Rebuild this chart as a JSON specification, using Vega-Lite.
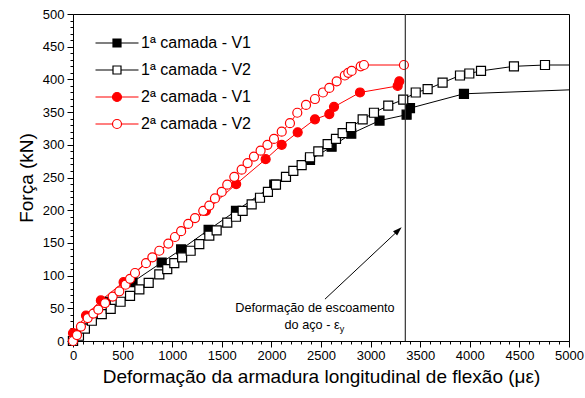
{
"$schema":"https://vega.github.io/schema/vega-lite/v6.json",
"width":496,"height":327,
"autosize":{"type":"none"},
"padding":{"left":73,"top":14,"right":16,"bottom":57},
"background":"white",
"config":{"view":{"stroke":"#000000","strokeWidth":1},"font":"Liberation Sans",
"axis":{"domainColor":"#000000","tickColor":"#000000","labelColor":"#000000","titleColor":"#000000","grid":false,"labelFont":"Liberation Sans","titleFont":"Liberation Sans","titleFontWeight":"normal","domainWidth":1,"tickWidth":1}},
"datasets":{"curves":[
{"s":"1ª camada - V1","x":0,"y":0},{"s":"1ª camada - V1","x":30,"y":10},{"s":"1ª camada - V1","x":330,"y":60},{"s":"1ª camada - V1","x":600,"y":90},{"s":"1ª camada - V1","x":894,"y":120},{"s":"1ª camada - V1","x":1090,"y":140},{"s":"1ª camada - V1","x":1367,"y":170},{"s":"1ª camada - V1","x":1643,"y":199},{"s":"1ª camada - V1","x":2029,"y":239},{"s":"1ª camada - V1","x":2389,"y":277},{"s":"1ª camada - V1","x":2607,"y":297},{"s":"1ª camada - V1","x":2805,"y":317},{"s":"1ª camada - V1","x":3090,"y":337},{"s":"1ª camada - V1","x":3363,"y":346},{"s":"1ª camada - V1","x":3397,"y":356},{"s":"1ª camada - V1","x":3941,"y":378},{"s":"1ª camada - V1","x":5000,"y":384},
{"s":"1ª camada - V2","x":0,"y":0},{"s":"1ª camada - V2","x":60,"y":8},{"s":"1ª camada - V2","x":120,"y":19},{"s":"1ª camada - V2","x":190,"y":31},{"s":"1ª camada - V2","x":290,"y":41},{"s":"1ª camada - V2","x":380,"y":49},{"s":"1ª camada - V2","x":480,"y":60},{"s":"1ª camada - V2","x":575,"y":69},{"s":"1ª camada - V2","x":669,"y":79},{"s":"1ª camada - V2","x":763,"y":89},{"s":"1ª camada - V2","x":870,"y":102},{"s":"1ª camada - V2","x":950,"y":110},{"s":"1ª camada - V2","x":1021,"y":119},{"s":"1ª camada - V2","x":1100,"y":128},{"s":"1ª camada - V2","x":1186,"y":138},{"s":"1ª camada - V2","x":1273,"y":148},{"s":"1ª camada - V2","x":1374,"y":161},{"s":"1ª camada - V2","x":1448,"y":169},{"s":"1ª camada - V2","x":1555,"y":181},{"s":"1ª camada - V2","x":1643,"y":190},{"s":"1ª camada - V2","x":1710,"y":199},{"s":"1ª camada - V2","x":1801,"y":209},{"s":"1ª camada - V2","x":1885,"y":219},{"s":"1ª camada - V2","x":1965,"y":228},{"s":"1ª camada - V2","x":2046,"y":239},{"s":"1ª camada - V2","x":2147,"y":251},{"s":"1ª camada - V2","x":2221,"y":260},{"s":"1ª camada - V2","x":2305,"y":269},{"s":"1ª camada - V2","x":2389,"y":281},{"s":"1ª camada - V2","x":2473,"y":290},{"s":"1ª camada - V2","x":2567,"y":301},{"s":"1ª camada - V2","x":2651,"y":309},{"s":"1ª camada - V2","x":2718,"y":318},{"s":"1ª camada - V2","x":2802,"y":327},{"s":"1ª camada - V2","x":2920,"y":339},{"s":"1ª camada - V2","x":3034,"y":349},{"s":"1ª camada - V2","x":3178,"y":360},{"s":"1ª camada - V2","x":3329,"y":369},{"s":"1ª camada - V2","x":3455,"y":380},{"s":"1ª camada - V2","x":3575,"y":385},{"s":"1ª camada - V2","x":3726,"y":395},{"s":"1ª camada - V2","x":3901,"y":406},{"s":"1ª camada - V2","x":3995,"y":409},{"s":"1ª camada - V2","x":4113,"y":413},{"s":"1ª camada - V2","x":4445,"y":420},{"s":"1ª camada - V2","x":4758,"y":422},{"s":"1ª camada - V2","x":5000,"y":422},
{"s":"2ª camada - V1","x":0,"y":12},{"s":"2ª camada - V1","x":131,"y":39},{"s":"2ª camada - V1","x":281,"y":62},{"s":"2ª camada - V1","x":510,"y":90},{"s":"2ª camada - V1","x":1340,"y":199},{"s":"2ª camada - V1","x":1645,"y":240},{"s":"2ª camada - V1","x":1942,"y":278},{"s":"2ª camada - V1","x":2104,"y":300},{"s":"2ª camada - V1","x":2265,"y":319},{"s":"2ª camada - V1","x":2439,"y":339},{"s":"2ª camada - V1","x":2584,"y":347},{"s":"2ª camada - V1","x":2631,"y":358},{"s":"2ª camada - V1","x":2893,"y":380},{"s":"2ª camada - V1","x":3273,"y":390},{"s":"2ª camada - V1","x":3289,"y":397},
{"s":"2ª camada - V2","x":0,"y":0},{"s":"2ª camada - V2","x":40,"y":9},{"s":"2ª camada - V2","x":80,"y":22},{"s":"2ª camada - V2","x":148,"y":35},{"s":"2ª camada - V2","x":205,"y":42},{"s":"2ª camada - V2","x":255,"y":48},{"s":"2ª camada - V2","x":323,"y":58},{"s":"2ª camada - V2","x":400,"y":68},{"s":"2ª camada - V2","x":467,"y":76},{"s":"2ª camada - V2","x":530,"y":86},{"s":"2ª camada - V2","x":575,"y":95},{"s":"2ª camada - V2","x":625,"y":104},{"s":"2ª camada - V2","x":736,"y":119},{"s":"2ª camada - V2","x":800,"y":128},{"s":"2ª camada - V2","x":870,"y":138},{"s":"2ª camada - V2","x":961,"y":149},{"s":"2ª camada - V2","x":1028,"y":159},{"s":"2ª camada - V2","x":1090,"y":168},{"s":"2ª camada - V2","x":1162,"y":179},{"s":"2ª camada - V2","x":1230,"y":188},{"s":"2ª camada - V2","x":1313,"y":199},{"s":"2ª camada - V2","x":1374,"y":207},{"s":"2ª camada - V2","x":1431,"y":218},{"s":"2ª camada - V2","x":1499,"y":228},{"s":"2ª camada - V2","x":1555,"y":239},{"s":"2ª camada - V2","x":1626,"y":251},{"s":"2ª camada - V2","x":1700,"y":262},{"s":"2ª camada - V2","x":1760,"y":272},{"s":"2ª camada - V2","x":1824,"y":282},{"s":"2ª camada - V2","x":1891,"y":291},{"s":"2ª camada - V2","x":1960,"y":300},{"s":"2ª camada - V2","x":2026,"y":309},{"s":"2ª camada - V2","x":2104,"y":320},{"s":"2ª camada - V2","x":2187,"y":333},{"s":"2ª camada - V2","x":2261,"y":349},{"s":"2ª camada - V2","x":2349,"y":361},{"s":"2ª camada - V2","x":2439,"y":370},{"s":"2ª camada - V2","x":2520,"y":380},{"s":"2ª camada - V2","x":2584,"y":387},{"s":"2ª camada - V2","x":2658,"y":397},{"s":"2ª camada - V2","x":2740,"y":406},{"s":"2ª camada - V2","x":2775,"y":410},{"s":"2ª camada - V2","x":2809,"y":413},{"s":"2ª camada - V2","x":2900,"y":420},{"s":"2ª camada - V2","x":2933,"y":422},{"s":"2ª camada - V2","x":3336,"y":422}
]},
"layer":[
{"data":{"name":"curves"},
 "mark":{"type":"line","strokeWidth":1},
 "encoding":{
  "x":{"field":"x","type":"quantitative","scale":{"domain":[0,5000],"nice":false,"zero":false},
   "axis":{"orient":"bottom","values":[0,500,1000,1500,2000,2500,3000,3500,4000,4500,5000],"format":"d","tickSize":6,"labelFontSize":13,"labelPadding":2,"labelFlush":false,"labelOverlap":false,"title":"Deformação da armadura longitudinal de flexão (με)","titleFontSize":19,"titlePadding":5}},
  "y":{"field":"y","type":"quantitative","scale":{"domain":[0,500],"nice":false,"zero":false},
   "axis":{"orient":"left","values":[0,50,100,150,200,250,300,350,400,450,500],"format":"d","tickSize":6,"labelFontSize":13,"labelPadding":3,"labelOverlap":false,"title":"Força (kN)","titleFontSize":19,"titlePadding":6}},
  "color":{"field":"s","type":"nominal","scale":{"domain":["1ª camada - V1","1ª camada - V2","2ª camada - V1","2ª camada - V2"],"range":["#000000","#000000","#ff0000","#ff0000"]},
   "legend":{"orient":"none","legendX":36,"legendY":21,"title":null,"padding":0,"symbolSize":100,"symbolStrokeWidth":1.2,"labelFont":"Liberation Sans","labelFontSize":16,"labelColor":"#000000","labelOffset":16,"rowPadding":11,
    "encode":{"symbols":{"update":{
     "shape":{"signal":"substring(datum.value,0,1) === '1' ? 'M-4.3,0H-0.8M0.8,0H4.3M-0.8,-0.8H0.8V0.8H-0.8Z' : 'M-4.3,0H-0.9M0.9,0H4.3M0.9,0A0.9,0.9,0,1,1,-0.9,0A0.9,0.9,0,1,1,0.9,0Z'"},
     "fill":{"signal":"indexof(datum.value,'V1') >= 0 ? (substring(datum.value,0,1) === '1' ? '#000000' : '#ff0000') : '#ffffff'"},
     "stroke":{"signal":"substring(datum.value,0,1) === '1' ? '#000000' : '#ff0000'"},
     "strokeWidth":{"value":1.2},
     "opacity":{"value":1}
    }}}}}
 }},
{"data":{"name":"curves"},
 "transform":[{"filter":"datum.s === '1ª camada - V1' && datum.x < 5000"}],
 "mark":{"type":"point","shape":"square","size":81,"strokeWidth":1.2,"opacity":1,"fill":"#000000","stroke":"#000000"},
 "encoding":{
  "x":{"field":"x","type":"quantitative","scale":{"domain":[0,5000],"nice":false,"zero":false},
   "axis":{"orient":"bottom","values":[100,200,300,400,600,700,800,900,1100,1200,1300,1400,1600,1700,1800,1900,2100,2200,2300,2400,2600,2700,2800,2900,3100,3200,3300,3400,3600,3700,3800,3900,4100,4200,4300,4400,4600,4700,4800,4900],"tickSize":3,"labels":false,"domain":false,"title":null}},
  "y":{"field":"y","type":"quantitative","scale":{"domain":[0,500],"nice":false,"zero":false},
   "axis":{"orient":"left","values":[10,20,30,40,60,70,80,90,110,120,130,140,160,170,180,190,210,220,230,240,260,270,280,290,310,320,330,340,360,370,380,390,410,420,430,440,460,470,480,490],"tickSize":3,"labels":false,"domain":false,"title":null}}
 }},
{"data":{"name":"curves"},
 "transform":[{"filter":"datum.s === '1ª camada - V2' && datum.x < 5000"}],
 "mark":{"type":"point","shape":"square","size":81,"strokeWidth":1.2,"opacity":1,"fill":"#ffffff","stroke":"#000000"},
 "encoding":{
  "x":{"field":"x","type":"quantitative","scale":{"domain":[0,5000],"nice":false,"zero":false},"axis":null},
  "y":{"field":"y","type":"quantitative","scale":{"domain":[0,500],"nice":false,"zero":false},"axis":null}
 }},
{"data":{"name":"curves"},
 "transform":[{"filter":"datum.s === '2ª camada - V1' && datum.x < 5000"}],
 "mark":{"type":"point","shape":"circle","size":81,"strokeWidth":1.2,"opacity":1,"fill":"#ff0000","stroke":"#ff0000"},
 "encoding":{
  "x":{"field":"x","type":"quantitative","scale":{"domain":[0,5000],"nice":false,"zero":false},"axis":null},
  "y":{"field":"y","type":"quantitative","scale":{"domain":[0,500],"nice":false,"zero":false},"axis":null}
 }},
{"data":{"name":"curves"},
 "transform":[{"filter":"datum.s === '2ª camada - V2' && datum.x < 5000"}],
 "mark":{"type":"point","shape":"circle","size":81,"strokeWidth":1.2,"opacity":1,"fill":"#ffffff","stroke":"#ff0000"},
 "encoding":{
  "x":{"field":"x","type":"quantitative","scale":{"domain":[0,5000],"nice":false,"zero":false},"axis":null},
  "y":{"field":"y","type":"quantitative","scale":{"domain":[0,500],"nice":false,"zero":false},"axis":null}
 }},
{"data":{"values":[{"x":3350}]},
 "mark":{"type":"rule","color":"#333333","strokeWidth":1.2},
 "encoding":{"x":{"field":"x","type":"quantitative","scale":{"domain":[0,5000],"nice":false,"zero":false},"axis":null}}},
{"data":{"values":[{"x":2540,"y":64,"x2":3300,"y2":172}]},
 "mark":{"type":"rule","color":"#000000","strokeWidth":1},
 "encoding":{
  "x":{"field":"x","type":"quantitative","scale":{"domain":[0,5000],"nice":false,"zero":false},"axis":null},
  "y":{"field":"y","type":"quantitative","scale":{"domain":[0,500],"nice":false,"zero":false},"axis":null},
  "x2":{"field":"x2"},"y2":{"field":"y2"}}},
{"data":{"values":[{"x":3313,"y":174}]},
 "mark":{"type":"point","shape":"M0,0L-0.6,1.8L0.6,1.8Z","size":100,"angle":47,"filled":true,"color":"#000000","opacity":1},
 "encoding":{
  "x":{"field":"x","type":"quantitative","scale":{"domain":[0,5000],"nice":false,"zero":false},"axis":null},
  "y":{"field":"y","type":"quantitative","scale":{"domain":[0,500],"nice":false,"zero":false},"axis":null}}},
{"data":{"values":[{"t":"Deformação de escoamento","x":2439,"y":51},{"t":"do aço  - ε","x":2410,"y":24}]},
 "mark":{"type":"text","font":"Liberation Sans","fontSize":12.7,"align":"center","baseline":"middle","color":"#000000"},
 "encoding":{
  "x":{"field":"x","type":"quantitative","scale":{"domain":[0,5000],"nice":false,"zero":false},"axis":null},
  "y":{"field":"y","type":"quantitative","scale":{"domain":[0,500],"nice":false,"zero":false},"axis":null},
  "text":{"field":"t"}}},
{"data":{"values":[{"t":"y","x":2712,"y":18}]},
 "mark":{"type":"text","font":"Liberation Sans","fontSize":9,"align":"center","baseline":"middle","color":"#000000"},
 "encoding":{
  "x":{"field":"x","type":"quantitative","scale":{"domain":[0,5000],"nice":false,"zero":false},"axis":null},
  "y":{"field":"y","type":"quantitative","scale":{"domain":[0,500],"nice":false,"zero":false},"axis":null},
  "text":{"field":"t"}}}
],
"resolve":{"axis":{"x":"independent","y":"independent"}}
}
